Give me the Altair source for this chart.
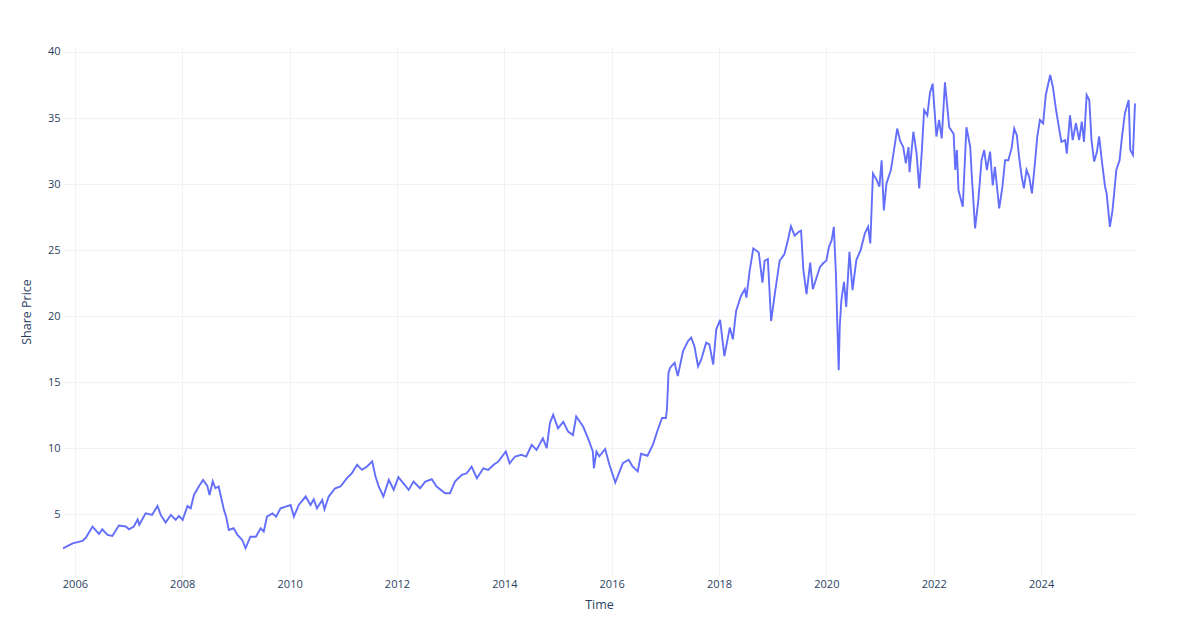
import altair as alt
import pandas as pd

# Share prices, by segment (decimal years / prices)
years_2006_2010 = [
    2005.78, 2005.96, 2006.14, 2006.20, 2006.33, 2006.45, 2006.51, 2006.61, 2006.70, 2006.82,
    2006.95, 2007.01, 2007.10, 2007.17, 2007.20, 2007.32, 2007.44, 2007.54, 2007.60, 2007.69,
    2007.79, 2007.88, 2007.94, 2008.01, 2008.10, 2008.16, 2008.22, 2008.31, 2008.39, 2008.47,
    2008.51, 2008.57, 2008.62, 2008.68, 2008.78, 2008.82, 2008.87, 2008.96, 2009.03, 2009.12,
    2009.18, 2009.27, 2009.37, 2009.46, 2009.52, 2009.58, 2009.68, 2009.75, 2009.83, 2009.93,
    2010.02, 2010.08, 2010.17, 2010.30, 2010.39, 2010.45, 2010.51, 2010.61, 2010.65, 2010.73,
]
prices_2006_2010 = [
    2.42, 2.80, 2.98, 3.20, 4.07, 3.50, 3.86, 3.43, 3.36, 4.14,
    4.07, 3.86, 4.07, 4.60, 4.20, 5.07, 4.95, 5.63, 4.95, 4.37,
    4.95, 4.57, 4.87, 4.57, 5.63, 5.45, 6.46, 7.10, 7.60, 7.15,
    6.46, 7.50, 6.97, 7.10, 5.33, 4.82, 3.81, 3.94, 3.43, 3.05,
    2.42, 3.30, 3.30, 3.94, 3.69, 4.82, 5.07, 4.82, 5.45, 5.58,
    5.70, 4.82, 5.70, 6.34, 5.70, 6.13, 5.45, 6.08, 5.38, 6.34,
]

years_2011_2015 = [
    2010.85, 2010.95, 2011.07, 2011.16, 2011.26, 2011.35, 2011.44, 2011.54, 2011.60, 2011.66,
    2011.75, 2011.85, 2011.94, 2012.03, 2012.12, 2012.22, 2012.31, 2012.43, 2012.53, 2012.65,
    2012.74, 2012.90, 2012.99, 2013.08, 2013.21, 2013.30, 2013.39, 2013.49, 2013.61, 2013.70,
    2013.80, 2013.89, 2014.03, 2014.10, 2014.20, 2014.32, 2014.41, 2014.51, 2014.60, 2014.72,
    2014.79, 2014.85, 2014.91, 2015.00, 2015.10, 2015.19, 2015.28, 2015.34, 2015.47, 2015.56,
    2015.65, 2015.67, 2015.72,
]
prices_2011_2015 = [
    6.97, 7.10, 7.73, 8.10, 8.74, 8.36, 8.60, 9.00, 7.85, 7.10,
    6.34, 7.60, 6.84, 7.80, 7.35, 6.84, 7.47, 6.97, 7.47, 7.65,
    7.10, 6.59, 6.59, 7.47, 7.98, 8.10, 8.60, 7.73, 8.48, 8.36,
    8.74, 9.00, 9.75, 8.86, 9.37, 9.50, 9.37, 10.25, 9.87, 10.76,
    10.00, 11.90, 12.53, 11.50, 12.00, 11.26, 11.00, 12.40, 11.64, 10.76,
    9.75, 8.48, 9.75,
]

years_2016_2019 = [
    2015.77, 2015.88, 2015.96, 2016.07, 2016.21, 2016.32, 2016.39, 2016.49, 2016.55, 2016.67,
    2016.77, 2016.86, 2016.94, 2017.01, 2017.03, 2017.06, 2017.09, 2017.17, 2017.23, 2017.33,
    2017.42, 2017.48, 2017.54, 2017.61, 2017.67, 2017.76, 2017.82, 2017.89, 2017.95, 2018.02,
    2018.10, 2018.20, 2018.26, 2018.32, 2018.41, 2018.48, 2018.51, 2018.57, 2018.64, 2018.74,
    2018.81, 2018.85, 2018.91, 2018.97, 2019.04, 2019.13, 2019.22, 2019.29, 2019.34, 2019.41,
    2019.49, 2019.53, 2019.57, 2019.63, 2019.70, 2019.75,
]
prices_2016_2019 = [
    9.38, 9.94, 8.75, 7.40, 8.87, 9.13, 8.62, 8.24, 9.58, 9.43,
    10.27, 11.40, 12.29, 12.29, 12.90, 15.70, 16.10, 16.47, 15.46, 17.35,
    18.10, 18.37, 17.73, 16.20, 16.72, 17.99, 17.86, 16.34, 19.00, 19.71,
    16.97, 19.13, 18.24, 20.40, 21.53, 22.04, 21.40, 23.43, 25.13, 24.82,
    22.54, 24.19, 24.32, 19.63, 21.66, 24.19, 24.70, 25.84, 26.80, 26.09,
    26.39, 26.47, 23.56, 21.66, 24.06, 22.04,
]

years_2020_2022 = [
    2019.88, 2019.94, 2020.00, 2020.05, 2020.10, 2020.14, 2020.18, 2020.20, 2020.23, 2020.25,
    2020.28, 2020.33, 2020.37, 2020.43, 2020.49, 2020.56, 2020.64, 2020.72, 2020.78, 2020.82,
    2020.87, 2020.94, 2020.99, 2021.03, 2021.07, 2021.12, 2021.20, 2021.26, 2021.32, 2021.37,
    2021.43, 2021.48, 2021.53, 2021.55, 2021.62, 2021.68, 2021.73, 2021.78, 2021.82, 2021.88,
    2021.93, 2021.98, 2022.05, 2022.10, 2022.15, 2022.21, 2022.29, 2022.37, 2022.40, 2022.43,
    2022.46, 2022.54, 2022.61, 2022.68, 2022.71, 2022.77, 2022.83, 2022.89, 2022.94, 2022.99,
]
prices_2020_2022 = [
    23.70, 24.00, 24.20, 25.25, 25.75, 26.76, 23.20, 19.95, 15.90, 19.20,
    21.20, 22.60, 20.70, 24.87, 21.97, 24.24, 25.00, 26.26, 26.76, 25.50,
    30.80, 30.30, 29.80, 31.80, 28.00, 30.05, 31.06, 32.57, 34.20, 33.30,
    32.80, 31.56, 32.80, 30.90, 33.96, 32.30, 29.67, 32.57, 35.60, 35.20,
    36.90, 37.60, 33.60, 34.85, 33.46, 37.70, 34.30, 33.80, 31.06, 32.57,
    29.54, 28.28, 34.30, 32.80, 30.55, 26.64, 28.78, 31.80, 32.57, 31.06,
]

years_2023_2025 = [
    2023.05, 2023.10, 2023.14, 2023.22, 2023.28, 2023.33, 2023.39, 2023.45, 2023.50, 2023.55,
    2023.59, 2023.64, 2023.68, 2023.73, 2023.78, 2023.83, 2023.89, 2023.93, 2023.98, 2024.04,
    2024.09, 2024.17, 2024.22, 2024.28, 2024.34, 2024.38, 2024.45, 2024.48, 2024.54, 2024.59,
    2024.65, 2024.71, 2024.76, 2024.80, 2024.85, 2024.90, 2024.94, 2024.99, 2025.04, 2025.08,
    2025.13, 2025.19, 2025.22, 2025.28, 2025.33, 2025.40, 2025.46, 2025.50, 2025.56, 2025.63,
    2025.66, 2025.71, 2025.75,
]
prices_2023_2025 = [
    32.45, 29.90, 31.30, 28.15, 29.80, 31.80, 31.80, 32.70, 34.20, 33.70,
    32.07, 30.55, 29.67, 31.06, 30.55, 29.30, 31.80, 33.60, 34.85, 34.60,
    36.74, 38.25, 37.37, 35.60, 34.10, 33.20, 33.33, 32.30, 35.20, 33.33,
    34.60, 33.33, 34.72, 33.20, 36.74, 36.36, 33.33, 31.70, 32.45, 33.60,
    31.80, 29.80, 29.30, 26.76, 28.00, 31.06, 31.80, 33.33, 35.35, 36.36,
    32.57, 32.20, 36.10,
]

x_ticks = ["2006-01-01", "2008-01-01", "2010-01-01", "2012-01-01", "2014-01-01",
           "2016-01-01", "2018-01-01", "2020-01-01", "2022-01-01", "2024-01-01"]
y_ticks = [5, 10, 15, 20, 25, 30, 35, 40]

years = years_2006_2010 + years_2011_2015 + years_2016_2019 + years_2020_2022 + years_2023_2025
prices = prices_2006_2010 + prices_2011_2015 + prices_2016_2019 + prices_2020_2022 + prices_2023_2025


def to_date(y):
    base = pd.Timestamp(int(y), 1, 1)
    return (base + pd.Timedelta(days=(y - int(y)) * 365.25)).strftime("%Y-%m-%d")


df = pd.DataFrame({"Time": [to_date(y) for y in years], "Share Price": prices})

FONT = "Open Sans"
TXT = "#2a3f5f"
GRID = "#F0F2F6"

chart = (
    alt.Chart(df)
    .mark_line(color="#636EFA", strokeWidth=1.9)
    .encode(
        x=alt.X(
            "Time:T",
            title="Time",
            scale=alt.Scale(nice=False),
            axis=alt.Axis(
                values=x_ticks,
                format="%Y",
                labelAngle=0,
                grid=True,
                gridColor=GRID,
                domain=False,
                ticks=False,
                labelPadding=3,
                titlePadding=9,
            ),
        ),
        y=alt.Y(
            "Share Price:Q",
            title="Share Price",
            scale=alt.Scale(domain=[0.4, 40.3], nice=False, zero=False),
            axis=alt.Axis(
                values=y_ticks,
                grid=True,
                gridColor=GRID,
                domain=False,
                ticks=False,
                labelPadding=3,
                titlePadding=14,
            ),
        ),
    )
    .properties(
        width=1072,
        height=527,
        autosize=alt.AutoSizeParams(type="none"),
        padding={"left": 55, "top": 40, "right": 57, "bottom": 50},
    )
    .configure_view(stroke=None)
    .configure_axis(
        labelFont=FONT,
        titleFont=FONT,
        labelColor=TXT,
        titleColor=TXT,
        labelFontSize=11,
        titleFontSize=12.5,
        titleFontWeight="normal",
    )
)

chart.save("out.html", embed_options={"renderer": "svg", "actions": False})
